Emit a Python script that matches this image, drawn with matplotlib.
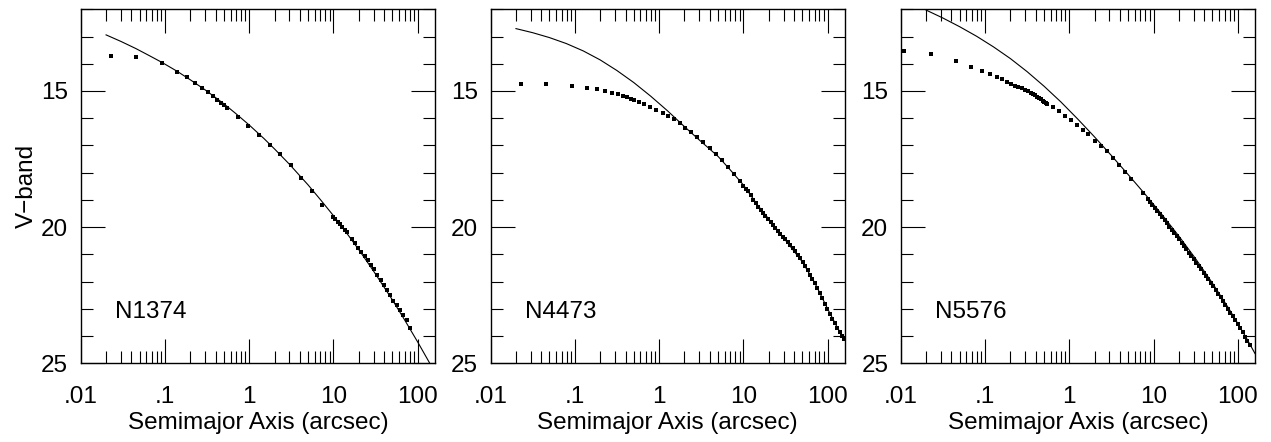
import matplotlib
matplotlib.use("Agg")
import matplotlib.pyplot as plt
from matplotlib.ticker import FixedLocator, FixedFormatter, LogLocator, NullFormatter, MultipleLocator

plt.rcParams['font.family'] = ['Liberation Sans', 'DejaVu Sans']

# NGC 1374
n1374_r = [0.0229, 0.0453, 0.092, 0.139, 0.182, 0.227, 0.275, 0.324, 0.371, 0.414, 0.461,
           0.501, 0.544, 0.734, 0.966, 1.29, 1.76, 2.31, 3.12, 4.14, 5.54, 7.28, 9.84,
           10.4, 11.2, 12.0, 12.7, 13.6, 14.4, 16.4, 17.9, 19.6, 21.1, 23.6, 25.8, 27.8,
           30.4, 32.7, 36.2, 39.6, 43.0, 46.7, 50.7, 56.1, 60.8, 66.5, 73.6, 80.0]
n1374_mu = [13.72, 13.75, 13.97, 14.30, 14.50, 14.72, 14.90, 15.04, 15.18, 15.33, 15.45,
            15.52, 15.63, 15.95, 16.28, 16.61, 16.99, 17.32, 17.71, 18.20, 18.67, 19.17, 19.62,
            19.71, 19.81, 19.90, 19.99, 20.09, 20.19, 20.42, 20.59, 20.75, 20.92, 21.07, 21.21, 21.40,
            21.55, 21.74, 21.94, 22.13, 22.31, 22.50, 22.71, 22.86, 23.05, 23.23, 23.41, 23.70]
n1374_fit_r = [0.02, 0.03, 0.045, 0.065, 0.092, 0.14, 0.2, 0.3, 0.5, 0.7, 1.0, 1.5, 2.0,
               3.0, 5.0, 7.0, 10, 15, 20, 30, 50, 70, 100, 142]
n1374_fit_mu = [12.94, 13.18, 13.44, 13.70, 13.95, 14.28, 14.59, 14.96, 15.47, 15.84, 16.25,
                16.75, 17.13, 17.69, 18.45, 18.99, 19.58, 20.30, 20.83, 21.62, 22.67, 23.41,
                24.22, 25.05]

# NGC 4473
n4473_r = [0.0229, 0.0453, 0.092, 0.139, 0.182, 0.227, 0.275, 0.324, 0.371, 0.414, 0.461,
           0.501, 0.57, 0.67, 0.79, 0.93, 1.1, 1.28, 1.5, 1.75, 2.05, 2.4, 2.8, 3.33, 4.0,
           4.7, 5.5, 6.5, 7.7, 9.1,
           10.0, 10.7, 11.4, 12.2, 13.1, 14.0, 15.0, 16.0, 17.1, 18.3, 19.6, 21.0, 22.5,
           24.0, 25.7, 27.5, 29.4, 31.5, 33.7, 36.0, 38.5, 41.2, 44.1, 47.2, 50.5, 54.0,
           57.8, 61.8, 66.1, 70.8, 75.7, 81.0, 86.7, 92.8, 99.3, 106, 114, 122, 130, 139,
           149, 158]
n4473_mu = [14.74, 14.74, 14.82, 14.89, 14.94, 15.00, 15.07, 15.12, 15.18, 15.23, 15.28,
            15.33, 15.40, 15.49, 15.60, 15.70, 15.81, 15.92, 16.04, 16.19, 16.35, 16.52, 16.69,
            16.87, 17.09, 17.32, 17.54, 17.79, 18.06, 18.31,
            18.50, 18.60, 18.69, 18.82, 18.99, 19.13, 19.25, 19.36, 19.47, 19.59, 19.70, 19.81,
            19.92, 20.02, 20.13, 20.24, 20.35, 20.45, 20.55, 20.66, 20.77, 20.88, 21.02, 21.15,
            21.29, 21.43, 21.58, 21.74, 21.90, 22.06, 22.22, 22.40, 22.60, 22.81, 23.02, 23.18,
            23.37, 23.53, 23.70, 23.86, 24.01, 24.12]
n4473_fit_r = [0.02, 0.0316, 0.05, 0.0794, 0.126, 0.2, 0.316, 0.5, 0.794, 1.26, 2.0, 3.0,
               5.0, 7.0, 10, 15, 20, 30, 50, 70, 100, 130, 160]
n4473_fit_mu = [12.71, 12.86, 13.04, 13.26, 13.53, 13.86, 14.25, 14.69, 15.19, 15.73, 16.31,
                16.80, 17.40, 17.90, 18.45, 19.22, 19.70, 20.39, 21.27, 22.03, 23.00, 23.68,
                24.15]

# NGC 5576
n5576_r = [0.0109, 0.0229, 0.0453, 0.0676, 0.092, 0.115, 0.139, 0.159, 0.182, 0.204, 0.227,
           0.248, 0.275, 0.298, 0.324, 0.348, 0.371, 0.395, 0.414, 0.44, 0.461, 0.483, 0.501,
           0.525, 0.544, 0.64, 0.75, 0.89, 1.04, 1.22, 1.44, 1.68, 2.02, 2.35, 2.78, 3.27,
           3.89, 4.6, 5.37, 7.4, 8.7,
           9.0, 9.6, 10.3, 11.0, 11.8, 12.6, 13.5, 14.4, 15.4, 16.5, 17.6, 18.8, 20.1, 21.5,
           23.0, 24.6, 26.3, 28.1, 30.0, 32.1, 34.3, 36.7, 39.2, 41.9, 44.8, 47.9, 51.2, 54.7,
           58.5, 62.5, 66.8, 71.4, 76.3, 81.6, 87.2, 93.2, 99.6, 106, 114, 122, 130, 138]
n5576_mu = [13.53, 13.64, 13.90, 14.12, 14.27, 14.38, 14.49, 14.57, 14.67, 14.75, 14.82,
            14.85, 14.90, 14.95, 15.01, 15.06, 15.11, 15.16, 15.21, 15.26, 15.31, 15.35, 15.40,
            15.45, 15.49, 15.59, 15.75, 15.93, 16.08, 16.25, 16.42, 16.59, 16.83, 17.02, 17.22,
            17.47, 17.72, 17.98, 18.24, 18.73, 18.97,
            19.07, 19.17, 19.29, 19.40, 19.52, 19.63, 19.75, 19.86, 19.98, 20.10, 20.22, 20.33,
            20.45, 20.57, 20.70, 20.82, 20.94, 21.06, 21.18, 21.30, 21.42, 21.54, 21.67, 21.79,
            21.92, 22.04, 22.17, 22.30, 22.44, 22.58, 22.72, 22.86, 23.00, 23.14, 23.28, 23.42,
            23.56, 23.70, 23.86, 24.02, 24.18, 24.33]
n5576_fit_r = [0.02, 0.0316, 0.05, 0.0794, 0.126, 0.2, 0.316, 0.5, 0.794, 1.26, 2.0, 3.16,
               5.0, 7.94, 12.6, 20.0, 31.6, 50.1, 79.4, 126, 160]
n5576_fit_mu = [12.03, 12.32, 12.64, 12.99, 13.38, 13.81, 14.29, 14.82, 15.40, 16.03, 16.69,
                17.37, 18.07, 18.79, 19.54, 20.33, 21.16, 22.06, 23.02, 24.06, 24.64]

names = ['N1374', 'N4473', 'N5576']
xtick_vals = [0.01, 0.1, 1, 10, 100]
xtick_labels = ['.01', '.1', '1', '10', '100']

panels = [(n1374_r, n1374_mu, n1374_fit_r, n1374_fit_mu),
          (n4473_r, n4473_mu, n4473_fit_r, n4473_fit_mu),
          (n5576_r, n5576_mu, n5576_fit_r, n5576_fit_mu)]

fig = plt.figure(figsize=(12.71, 4.42), dpi=100)
lefts = [0.0635, 0.386, 0.7087]

for i, (r, mu, fr, fmu) in enumerate(panels):
    ax = fig.add_axes([lefts[i], 0.178, 0.2787, 0.801])
    ax.plot(fr, fmu, color='black', lw=0.8)
    ax.plot(r, mu, 's', color='black', ms=3.0, mew=0)
    ax.set_xscale('log')
    ax.set_xlim(0.01, 160)
    ax.set_ylim(25, 12)
    ax.xaxis.set_major_locator(FixedLocator(xtick_vals))
    ax.xaxis.set_major_formatter(FixedFormatter(xtick_labels))
    ax.xaxis.set_minor_locator(LogLocator(base=10, subs=range(2, 10)))
    ax.xaxis.set_minor_formatter(NullFormatter())
    ax.yaxis.set_major_locator(FixedLocator([15, 20, 25]))
    ax.yaxis.set_minor_locator(MultipleLocator(1))
    ax.tick_params(which='both', direction='in', top=True, right=True, width=0.8, colors='black')
    ax.tick_params(which='major', length=17.5, labelsize=17.5)
    ax.tick_params(which='minor', length=8.8)
    ax.tick_params(axis='x', which='major', pad=16.5)
    ax.tick_params(axis='y', which='major', pad=9)
    for s in ax.spines.values():
        s.set_linewidth(1.0)
    ax.set_xlabel('Semimajor Axis (arcsec)', fontsize=17.5, labelpad=2.5)
    ax.text(0.097, 0.145, names[i], transform=ax.transAxes, fontsize=17.5, ha='left', va='center')
    if i == 0:
        ax.set_ylabel('V\u2212band', fontsize=17.5, labelpad=2)

fig.savefig('out.png', dpi=100)
